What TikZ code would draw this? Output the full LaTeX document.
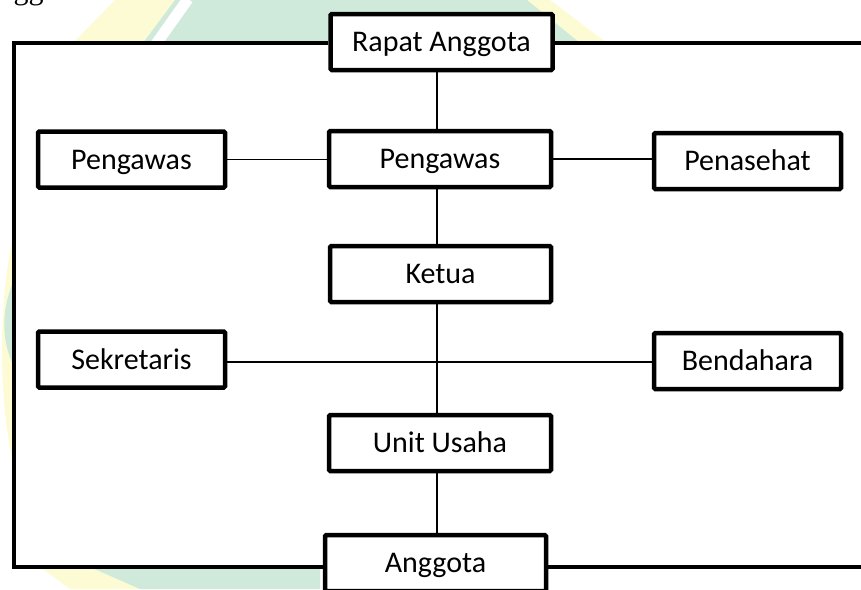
\documentclass[tikz,border=0pt]{standalone}
\usepackage{fontspec}
\setmainfont{Carlito}
\newfontfamily\serifdoc{Liberation Serif}
\definecolor{wmgreen}{HTML}{CFEADA}
\definecolor{wmyellow}{HTML}{FDFBD3}
\tikzset{
  orgbox/.style={draw=black, line width=4.5pt, rounded corners=1.2pt, fill=white,
    minimum width=#1, minimum height=56pt, inner sep=0pt,
    text height=19.5pt, text depth=0pt, font=\fontsize{30}{35}\selectfont},
  orgbox/.default=222pt,
  link/.style={line width=1.8pt},
  frame/.style={line width=4.5pt}
}
\begin{document}
\begin{tikzpicture}[x=1pt,y=-1pt]
\useasboundingbox (0,0) rectangle (861,589);
% watermark remnants
\fill[wmyellow] (73,43) -- (115,0) -- (550,0) -- (607,43) -- cycle;
\fill[wmgreen] (143,43) -- (175,0) -- (527,0) -- (580,43) -- cycle;
\draw[white, line width=11pt] (156,44) -- (188,-1);
\fill[wmyellow] (14,233) .. controls (-2,300) and (-2,400) .. (14,467) -- cycle;
\fill[wmgreen] (14,280) .. controls (1,310) and (1,340) .. (14,367) -- cycle;
\fill[wmyellow] (40,567) -- (175,567) -- (160,589) -- (70,589) -- cycle;
\fill[wmgreen] (90,567) -- (320,567) -- (320,589) -- (140,589) -- cycle;
\fill[white] (14,43) rectangle (861,567);
% document text fragment (cut off at the top edge, as in the reference)
\node[anchor=base east, inner sep=0pt, font=\serifdoc\fontsize{30}{36}\selectfont] (doc) at (88,0) {Anggota.};
% boxes
\node[orgbox] (rapat) at (441.5,42) {Rapat Anggota};
\node[orgbox] (pc) at (440,159) {Pengawas};
\node[orgbox=187pt] (pl) at (131.5,159.5) {Pengawas};
\node[orgbox=187pt] (pen) at (747.5,161) {Penasehat};
\node[orgbox=221pt] (ketua) at (440.5,274) {Ketua};
\node[orgbox=187pt] (sek) at (131.5,359.5) {Sekretaris};
\node[orgbox=187pt] (bend) at (747.5,361) {Bendahara};
\node[orgbox] (unit) at (440,443) {Unit Usaha};
\node[orgbox=221pt] (angg) at (435.5,563) {Anggota};
% helper coordinates
\coordinate (spine) at (437,0);
\coordinate (hy) at (0,362);
\coordinate (frameL) at (14,0);
\coordinate (frameR) at (861,0);
\coordinate (topy) at (0,43);
\coordinate (boty) at (0,567);
% connectors
\draw[link] (rapat.south -| spine) -- (pc.north -| spine);
\draw[link] (pc.south -| spine) -- (ketua.north -| spine);
\draw[link] (ketua.south -| spine) -- (unit.north -| spine);
\draw[link] (unit.south -| spine) -- (angg.north -| spine);
\draw[link] (pl.east) -- (pc.west |- pl.east);
\draw[link] (pc.east) -- (pen.west |- pc.east);
\draw[link] (sek.east |- hy) -- (bend.west |- hy);
% outer frame
\draw[frame] (rapat.west |- topy) -- (frameL |- topy) -- (frameL |- boty) -- (angg.west |- boty);
\draw[frame] (rapat.east |- topy) -- (frameR |- topy);
\draw[frame] (angg.east |- boty) -- (frameR |- boty);
\end{tikzpicture}
\end{document}
